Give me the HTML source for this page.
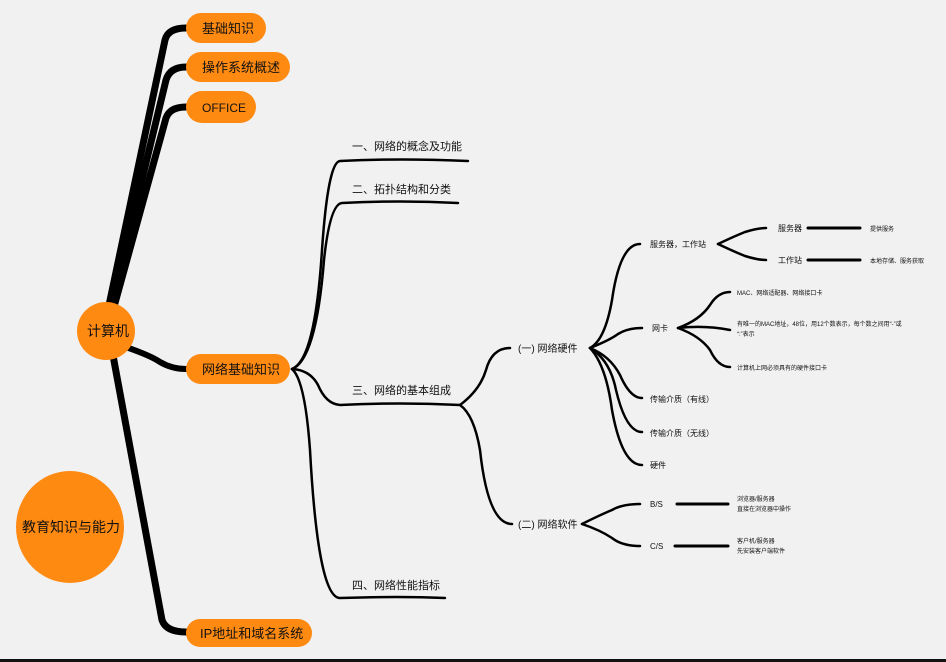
<!DOCTYPE html>
<html><head><meta charset="utf-8"><style>
html,body{margin:0;padding:0;background:#f1f1f1;}
svg{display:block;font-family:"Liberation Sans","Noto Sans CJK SC",sans-serif;}
</style></head><body>
<svg width="946" height="662" viewBox="0 0 946 662" xmlns="http://www.w3.org/2000/svg">
<rect width="946" height="662" fill="#f1f1f1"/>
<g fill="none" stroke="#000" stroke-linecap="round">
<path d="M108,310 L165,40 Q168,28 186,28" stroke-width="7"/>
<path d="M110,312 L166,80 Q170,67 186,67" stroke-width="7"/>
<path d="M112,314 L166,118 Q170,107 186,107" stroke-width="7"/>
<path d="M120,345 Q150,355 160,362 Q172,369 186,369" stroke-width="6"/>
<path d="M112,350 L162,620 Q166,632 186,632" stroke-width="7"/>
<g stroke-width="2.5">
<path d="M292,369 Q315,360 322,250 Q328,162 340,161 Q400,158 468,161"/>
<path d="M292,369 Q316,360 324,260 Q330,204 342,203 Q400,200 458,203"/>
<path d="M292,369 Q310,370 318,385 Q326,404 340,405 Q400,402 460,405"/>
<path d="M292,369 Q305,380 310,450 Q318,598 340,598 Q400,596 445,598"/>
<path d="M460,405 Q480,390 486,370 Q492,348 510,348"/>
<path d="M460,405 Q474,415 480,450 Q488,524 512,524"/>
<path d="M590,348 Q605,340 612,300 Q620,244 640,244"/>
<path d="M590,348 Q610,340 618,334 Q628,328 642,328"/>
<path d="M590,348 Q610,356 620,375 Q630,398 642,398"/>
<path d="M590,348 Q610,360 616,390 Q626,432 642,432"/>
<path d="M590,348 Q606,365 612,410 Q622,465 642,465"/>
<path d="M718,244 Q735,236 745,232 Q758,228 766,228"/>
<path d="M718,244 Q735,252 745,256 Q758,260 766,260"/>
<path d="M678,328 Q700,320 710,305 Q718,292 730,292"/>
<path d="M678,328 Q705,325 730,330"/>
<path d="M678,328 Q700,336 710,350 Q718,367 730,367"/>
<path d="M582,524 Q600,515 612,510 Q622,504 640,504"/>
<path d="M582,524 Q600,530 612,538 Q622,546 640,546"/>
</g>
<g stroke-width="3">
<path d="M808,228 L860,228"/><path d="M808,260 L860,260"/>
<path d="M677,504 L728,504"/><path d="M675,546 L728,546"/>
</g>
</g>
<g fill="#ff8a12">
<circle cx="106" cy="331" r="29"/>
<ellipse cx="70" cy="527" rx="54" ry="56"/>
<rect x="186" y="13" width="80" height="30" rx="15"/>
<rect x="186" y="52" width="104" height="30" rx="15"/>
<rect x="186" y="91" width="70" height="32" rx="16"/>
<rect x="186" y="354" width="104" height="30" rx="15"/>
<rect x="186" y="619" width="126" height="28" rx="14"/>
</g>
<g fill="#111" font-size="13">
<text x="87" y="336" font-size="14">计算机</text>
<text x="22" y="532" font-size="14">教育知识与能力</text>
<text x="202" y="33">基础知识</text>
<text x="202" y="72">操作系统概述</text>
<text x="202" y="112" font-size="12">OFFICE</text>
<text x="202" y="374">网络基础知识</text>
<text x="200" y="638">IP地址和域名系统</text>
<g font-size="11">
<text x="352" y="150">一、网络的概念及功能</text>
<text x="352" y="193">二、拓扑结构和分类</text>
<text x="352" y="394">三、网络的基本组成</text>
<text x="352" y="589">四、网络性能指标</text>
<text x="518" y="352" font-size="10">(一) 网络硬件</text>
<text x="518" y="528" font-size="10">(二) 网络软件</text>
</g>
<g font-size="8">
<text x="650" y="247">服务器，工作站</text>
<text x="652" y="331">网卡</text>
<text x="650" y="402">传输介质（有线）</text>
<text x="650" y="436">传输介质（无线）</text>
<text x="650" y="468">硬件</text>
<text x="778" y="231">服务器</text>
<text x="778" y="263">工作站</text>
<text x="650" y="507">B/S</text>
<text x="650" y="549">C/S</text>
</g>
<g font-size="6">
<text x="870" y="231">提供服务</text>
<text x="870" y="263">本地存储、服务获取</text>
<text x="737" y="295">MAC、网络适配器、网络接口卡</text>
<text x="737" y="326">有唯一的MAC地址，48位，用12个数表示，每个数之间用“-”或</text>
<text x="737" y="336">“:”表示</text>
<text x="737" y="370">计算机上网必须具有的硬件接口卡</text>
<text x="737" y="501">浏览器/服务器</text>
<text x="737" y="511">直接在浏览器中操作</text>
<text x="737" y="543">客户机/服务器</text>
<text x="737" y="553">先安装客户端软件</text>
</g>
</g>
<rect x="0" y="659" width="946" height="3" fill="#111"/>
</svg>
</body></html>
